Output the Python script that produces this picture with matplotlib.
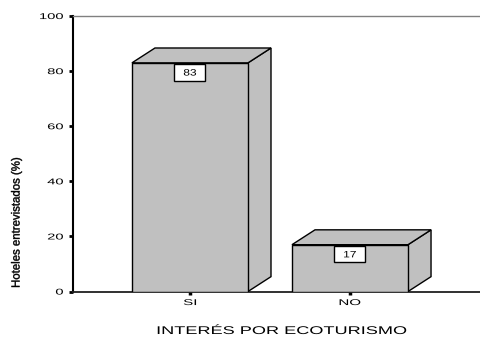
import matplotlib
matplotlib.use("Agg")
import matplotlib.pyplot as plt
from matplotlib.patches import Polygon, PathPatch, Rectangle
from matplotlib.textpath import TextPath
from matplotlib.font_manager import FontProperties
from matplotlib.transforms import Affine2D

categorias = ["SI", "NO"]
porcentajes = [83, 17]
marcas_y = [0, 20, 40, 60, 80, 100]
titulo_x = "INTERÉS POR ECOTURISMO"
titulo_y = "Hoteles entrevistados (%)"

ancho = 0.725      # ancho de la cara frontal
prof_x = 0.144     # profundidad del efecto 3D
prof_y = 5.4
gris = "#c0c0c0"

fuente = FontProperties(family=['Liberation Sans', 'DejaVu Sans'])
ALTO = 339

fig = plt.figure(figsize=(4.8, 3.39), dpi=100)
ax = fig.add_axes([0.152, 0.140, 0.848, 0.8127])


def texto(s, x, y, tam, sx=1.0, ha='center', z=6):
    # texto ensanchado en horizontal, x/y en pixeles (y hacia arriba)
    tp = TextPath((0, 0), s, size=tam, prop=fuente)
    bb = tp.get_extents()
    ox = {'center': (bb.x0 + bb.x1) / 2, 'right': bb.x1, 'left': bb.x0}[ha]
    oy = 0.358 * tam
    tr = Affine2D().translate(-ox, -oy).scale(sx, 1.0).translate(x, y)
    fig.add_artist(PathPatch(tp, transform=tr, facecolor='black', edgecolor='none',
                             lw=0, zorder=z))


def texto_vertical(s, cx, cy, w, h, tam=10):
    # texto girado 90 grados, ajustado a una caja de w x h pixeles
    tp = TextPath((0, 0), s, size=tam, prop=fuente)
    bb = tp.get_extents()
    tr = (Affine2D().translate(-(bb.x0 + bb.x1) / 2, -(bb.y0 + bb.y1) / 2)
          .rotate_deg(90).scale(w / bb.height, h / bb.width).translate(cx, cy))
    fig.add_artist(PathPatch(tp, transform=tr, facecolor='black', edgecolor='black',
                             lw=0.3, zorder=6))


pos = list(range(len(categorias)))
ax.bar(pos, porcentajes, width=ancho, color=gris, edgecolor="black",
       linewidth=1.0, zorder=3)

for x, h in zip(pos, porcentajes):
    der = x + ancho / 2
    izq = x - ancho / 2
    lado = Polygon([(der, 0), (der + prof_x, prof_y), (der + prof_x, h + prof_y), (der, h)],
                   closed=True, facecolor=gris, edgecolor="black", linewidth=1.0, zorder=2)
    techo = Polygon([(izq, h), (izq + prof_x, h + prof_y), (der + prof_x, h + prof_y), (der, h)],
                    closed=True, facecolor=gris, edgecolor="black", linewidth=1.0, zorder=2)
    ax.add_patch(lado)
    ax.add_patch(techo)

ax.set_xlim(-0.731, 1.8125)
ax.set_ylim(0, 100)
ax.set_yticks(marcas_y)
ax.set_xticks(pos)
ax.set_yticklabels([])
ax.set_xticklabels([])

ax.spines['right'].set_visible(False)
ax.spines['top'].set_color("#808080")
ax.spines['top'].set_linewidth(1.0)
ax.spines['left'].set_linewidth(1.5)
ax.spines['bottom'].set_linewidth(1.3)
ax.spines['bottom'].set_color("#202020")
ax.tick_params(axis='y', length=3, width=2)
ax.tick_params(axis='x', length=2, width=2.5)

# etiquetas dibujadas como trazos para poder ensancharlas
x_eje = ax.transAxes.transform((0, 0))[0]
for v in marcas_y:
    yd = ax.transData.transform((0, v))[1]
    texto(str(v), x_eje - 10, yd, 8.4, sx=1.75, ha='right')

y_base = ax.transAxes.transform((0, 0))[1]
for x, c in zip(pos, categorias):
    xd = ax.transData.transform((x, 0))[0]
    texto(c, xd, y_base - 10.5, 8.4, sx=1.8)

for x, h in zip(pos, porcentajes):
    xd, yd = ax.transData.transform((x, h - 3.4))
    fig.add_artist(Rectangle((xd - 16, yd - 8.3), 31, 16.6, transform=Affine2D(),
                             facecolor="white", edgecolor="black", linewidth=1.0, zorder=5))
    texto(str(h), xd, yd, 9.2, sx=1.3, z=7)

texto(titulo_x, 282, ALTO - 330, 11.2, sx=1.62)
texto_vertical(titulo_y, 16.5, ALTO - 222.5, 11, 129)

fig.savefig("out.png", dpi=100)
